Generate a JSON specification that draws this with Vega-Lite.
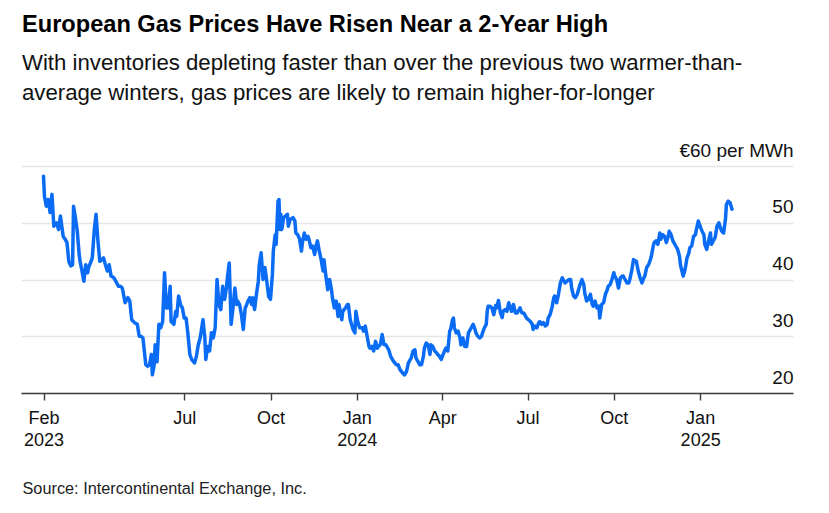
{
  "$schema": "https://vega.github.io/schema/vega-lite/v6.json",
  "width": 772,
  "height": 227,
  "autosize": {"type": "none"},
  "padding": {"left": 21, "top": 166, "right": 36, "bottom": 120},
  "background": "#ffffff",
  "config": {"view": {"stroke": null}, "font": "Liberation Sans"},
  "title": {
    "text": "European Gas Prices Have Risen Near a 2-Year High",
    "subtitle": ["With inventories depleting faster than over the previous two warmer-than-", "average winters, gas prices are likely to remain higher-for-longer"],
    "anchor": "start",
    "frame": "group",
    "dx": 1,
    "font": "Liberation Sans",
    "fontSize": 23.6,
    "fontWeight": "bold",
    "color": "#000000",
    "subtitleFont": "Liberation Sans",
    "subtitleFontSize": 22.2,
    "subtitleColor": "#111111",
    "subtitleLineHeight": 30,
    "subtitlePadding": 15,
    "offset": 37
  },
  "data": {"values": [
    {"date":"2023-02-01","price":58.2},{"date":"2023-02-02","price":54.7},{"date":"2023-02-04","price":52.9},{"date":"2023-02-06","price":54.1},{"date":"2023-02-08","price":51.8},{"date":"2023-02-10","price":55.0},{"date":"2023-02-12","price":49.4},{"date":"2023-02-15","price":50.0},{"date":"2023-02-17","price":48.8},{"date":"2023-02-19","price":51.2},{"date":"2023-02-22","price":47.6},{"date":"2023-02-24","price":47.1},{"date":"2023-02-26","price":46.5},{"date":"2023-02-28","price":43.2},
    {"date":"2023-03-02","price":42.4},{"date":"2023-03-04","price":42.6},{"date":"2023-03-05","price":52.9},{"date":"2023-03-07","price":50.9},{"date":"2023-03-09","price":48.5},{"date":"2023-03-11","price":44.4},{"date":"2023-03-12","price":43.2},{"date":"2023-03-14","price":41.5},{"date":"2023-03-16","price":39.7},{"date":"2023-03-18","price":42.6},{"date":"2023-03-20","price":41.2},{"date":"2023-03-21","price":42.1},{"date":"2023-03-23","price":42.9},{"date":"2023-03-25","price":43.8},{"date":"2023-03-27","price":48.5},{"date":"2023-03-29","price":51.5},{"date":"2023-03-31","price":46.8},
    {"date":"2023-04-02","price":43.2},{"date":"2023-04-04","price":43.5},{"date":"2023-04-06","price":43.8},{"date":"2023-04-08","price":42.6},{"date":"2023-04-10","price":41.5},{"date":"2023-04-12","price":42.6},{"date":"2023-04-14","price":40.6},{"date":"2023-04-17","price":40.3},{"date":"2023-04-19","price":39.7},{"date":"2023-04-22","price":38.8},{"date":"2023-04-24","price":38.8},{"date":"2023-04-26","price":38.5},{"date":"2023-04-29","price":35.9},
    {"date":"2023-05-02","price":36.8},{"date":"2023-05-04","price":36.2},{"date":"2023-05-06","price":32.9},{"date":"2023-05-09","price":32.4},{"date":"2023-05-12","price":32.1},{"date":"2023-05-14","price":30.0},{"date":"2023-05-16","price":30.0},{"date":"2023-05-18","price":29.7},{"date":"2023-05-21","price":25.0},{"date":"2023-05-23","price":24.7},{"date":"2023-05-25","price":25.0},{"date":"2023-05-27","price":26.8},{"date":"2023-05-28","price":23.2},{"date":"2023-05-30","price":25.0},{"date":"2023-05-31","price":28.5},
    {"date":"2023-06-02","price":25.5},{"date":"2023-06-04","price":32.1},{"date":"2023-06-06","price":31.5},{"date":"2023-06-08","price":32.6},{"date":"2023-06-10","price":41.2},{"date":"2023-06-12","price":35.0},{"date":"2023-06-14","price":35.0},{"date":"2023-06-16","price":38.8},{"date":"2023-06-17","price":32.6},{"date":"2023-06-20","price":32.1},{"date":"2023-06-22","price":34.4},{"date":"2023-06-23","price":33.5},{"date":"2023-06-25","price":37.1},{"date":"2023-06-27","price":35.6},{"date":"2023-06-29","price":35.0},
    {"date":"2023-07-01","price":33.2},{"date":"2023-07-03","price":33.2},{"date":"2023-07-05","price":30.3},{"date":"2023-07-07","price":26.8},{"date":"2023-07-09","price":25.9},{"date":"2023-07-12","price":25.3},{"date":"2023-07-14","price":26.5},{"date":"2023-07-16","price":28.5},{"date":"2023-07-18","price":29.7},{"date":"2023-07-21","price":32.9},{"date":"2023-07-23","price":29.7},{"date":"2023-07-24","price":25.9},{"date":"2023-07-26","price":28.2},{"date":"2023-07-28","price":27.4},{"date":"2023-07-30","price":30.6},
    {"date":"2023-08-01","price":29.7},{"date":"2023-08-03","price":31.5},{"date":"2023-08-05","price":40.0},{"date":"2023-08-07","price":35.6},{"date":"2023-08-09","price":34.7},{"date":"2023-08-11","price":38.8},{"date":"2023-08-13","price":36.5},{"date":"2023-08-15","price":38.5},{"date":"2023-08-16","price":40.3},{"date":"2023-08-18","price":42.9},{"date":"2023-08-19","price":37.4},{"date":"2023-08-20","price":32.1},{"date":"2023-08-22","price":35.0},{"date":"2023-08-24","price":38.5},{"date":"2023-08-26","price":35.6},{"date":"2023-08-27","price":36.2},{"date":"2023-08-29","price":35.6},{"date":"2023-08-31","price":33.8},
    {"date":"2023-09-02","price":31.2},{"date":"2023-09-04","price":35.0},{"date":"2023-09-05","price":35.3},{"date":"2023-09-07","price":36.2},{"date":"2023-09-09","price":36.8},{"date":"2023-09-11","price":35.6},{"date":"2023-09-12","price":36.8},{"date":"2023-09-14","price":34.7},{"date":"2023-09-16","price":37.4},{"date":"2023-09-18","price":39.7},{"date":"2023-09-19","price":42.6},{"date":"2023-09-21","price":44.7},{"date":"2023-09-23","price":40.0},{"date":"2023-09-25","price":42.1},{"date":"2023-09-27","price":39.7},{"date":"2023-09-29","price":37.0},
    {"date":"2023-10-01","price":36.5},{"date":"2023-10-03","price":40.9},{"date":"2023-10-04","price":45.0},{"date":"2023-10-06","price":47.9},{"date":"2023-10-07","price":46.2},{"date":"2023-10-09","price":53.8},{"date":"2023-10-10","price":54.1},{"date":"2023-10-11","price":48.8},{"date":"2023-10-12","price":51.5},{"date":"2023-10-13","price":48.8},{"date":"2023-10-15","price":50.9},{"date":"2023-10-17","price":51.2},{"date":"2023-10-19","price":51.5},{"date":"2023-10-20","price":49.4},{"date":"2023-10-22","price":50.6},{"date":"2023-10-25","price":50.9},{"date":"2023-10-27","price":50.3},{"date":"2023-10-28","price":48.2},{"date":"2023-10-30","price":47.9},
    {"date":"2023-11-01","price":47.1},{"date":"2023-11-03","price":45.0},{"date":"2023-11-04","price":46.5},{"date":"2023-11-06","price":48.2},{"date":"2023-11-08","price":47.1},{"date":"2023-11-10","price":47.6},{"date":"2023-11-11","price":47.1},{"date":"2023-11-13","price":45.6},{"date":"2023-11-15","price":45.9},{"date":"2023-11-17","price":44.4},{"date":"2023-11-19","price":46.2},{"date":"2023-11-20","price":46.8},{"date":"2023-11-22","price":45.0},{"date":"2023-11-24","price":43.5},{"date":"2023-11-26","price":41.5},{"date":"2023-11-27","price":43.5},{"date":"2023-11-29","price":40.6},
    {"date":"2023-12-01","price":38.2},{"date":"2023-12-03","price":40.0},{"date":"2023-12-05","price":38.2},{"date":"2023-12-06","price":36.8},{"date":"2023-12-08","price":35.0},{"date":"2023-12-10","price":36.2},{"date":"2023-12-12","price":33.5},{"date":"2023-12-13","price":35.6},{"date":"2023-12-16","price":32.9},{"date":"2023-12-17","price":34.4},{"date":"2023-12-20","price":35.0},{"date":"2023-12-22","price":35.6},{"date":"2023-12-23","price":35.6},{"date":"2023-12-25","price":32.9},{"date":"2023-12-28","price":31.2},{"date":"2023-12-30","price":30.6},{"date":"2023-12-31","price":34.4},
    {"date":"2024-01-02","price":32.6},{"date":"2024-01-04","price":31.5},{"date":"2024-01-07","price":31.5},{"date":"2024-01-08","price":30.9},{"date":"2024-01-10","price":31.8},{"date":"2024-01-12","price":30.0},{"date":"2024-01-14","price":28.2},{"date":"2024-01-15","price":27.9},{"date":"2024-01-17","price":28.2},{"date":"2024-01-19","price":27.4},{"date":"2024-01-21","price":29.1},{"date":"2024-01-23","price":27.9},{"date":"2024-01-24","price":28.2},{"date":"2024-01-26","price":28.5},{"date":"2024-01-28","price":30.3},{"date":"2024-01-30","price":28.5},
    {"date":"2024-02-01","price":28.5},{"date":"2024-02-04","price":27.6},{"date":"2024-02-06","price":26.5},{"date":"2024-02-09","price":25.6},{"date":"2024-02-12","price":25.0},{"date":"2024-02-14","price":25.0},{"date":"2024-02-16","price":24.1},{"date":"2024-02-19","price":23.5},{"date":"2024-02-21","price":23.2},{"date":"2024-02-23","price":23.8},{"date":"2024-02-25","price":25.3},{"date":"2024-02-26","price":25.6},{"date":"2024-02-28","price":26.2},
    {"date":"2024-03-01","price":27.4},{"date":"2024-03-03","price":27.6},{"date":"2024-03-04","price":26.2},{"date":"2024-03-06","price":25.6},{"date":"2024-03-08","price":25.0},{"date":"2024-03-10","price":25.0},{"date":"2024-03-12","price":26.5},{"date":"2024-03-13","price":27.9},{"date":"2024-03-15","price":28.8},{"date":"2024-03-17","price":28.5},{"date":"2024-03-19","price":26.8},{"date":"2024-03-20","price":28.5},{"date":"2024-03-22","price":28.2},{"date":"2024-03-24","price":27.4},{"date":"2024-03-26","price":27.1},{"date":"2024-03-27","price":26.8},{"date":"2024-03-29","price":26.5},{"date":"2024-03-31","price":25.9},
    {"date":"2024-04-02","price":26.8},{"date":"2024-04-04","price":27.6},{"date":"2024-04-05","price":27.9},{"date":"2024-04-07","price":27.4},{"date":"2024-04-09","price":30.9},{"date":"2024-04-10","price":31.2},{"date":"2024-04-12","price":32.9},{"date":"2024-04-13","price":33.2},{"date":"2024-04-14","price":31.5},{"date":"2024-04-16","price":30.6},{"date":"2024-04-18","price":30.9},{"date":"2024-04-20","price":29.7},{"date":"2024-04-21","price":28.5},{"date":"2024-04-23","price":29.7},{"date":"2024-04-25","price":28.2},{"date":"2024-04-27","price":28.2},{"date":"2024-04-29","price":30.6},{"date":"2024-04-30","price":30.9},
    {"date":"2024-05-02","price":31.5},{"date":"2024-05-04","price":32.1},{"date":"2024-05-06","price":31.2},{"date":"2024-05-07","price":30.6},{"date":"2024-05-09","price":30.0},{"date":"2024-05-11","price":29.7},{"date":"2024-05-13","price":30.0},{"date":"2024-05-14","price":30.6},{"date":"2024-05-16","price":31.5},{"date":"2024-05-18","price":32.1},{"date":"2024-05-19","price":34.4},{"date":"2024-05-20","price":35.3},{"date":"2024-05-22","price":35.3},{"date":"2024-05-24","price":35.0},{"date":"2024-05-26","price":33.8},{"date":"2024-05-28","price":35.4},{"date":"2024-05-29","price":35.0},{"date":"2024-05-31","price":36.3},
    {"date":"2024-06-02","price":34.2},{"date":"2024-06-04","price":33.3},{"date":"2024-06-05","price":34.4},{"date":"2024-06-07","price":34.7},{"date":"2024-06-09","price":34.4},{"date":"2024-06-11","price":35.9},{"date":"2024-06-12","price":35.3},{"date":"2024-06-14","price":34.4},{"date":"2024-06-16","price":35.6},{"date":"2024-06-18","price":34.1},{"date":"2024-06-20","price":34.1},{"date":"2024-06-21","price":34.4},{"date":"2024-06-23","price":35.0},{"date":"2024-06-25","price":34.1},{"date":"2024-06-27","price":34.1},{"date":"2024-06-29","price":33.5},{"date":"2024-06-30","price":33.2},
    {"date":"2024-07-02","price":32.9},{"date":"2024-07-04","price":32.6},{"date":"2024-07-06","price":32.1},{"date":"2024-07-07","price":31.2},{"date":"2024-07-09","price":31.8},{"date":"2024-07-11","price":31.5},{"date":"2024-07-13","price":32.4},{"date":"2024-07-14","price":32.6},{"date":"2024-07-16","price":32.1},{"date":"2024-07-18","price":32.4},{"date":"2024-07-20","price":31.8},{"date":"2024-07-22","price":32.1},{"date":"2024-07-23","price":33.2},{"date":"2024-07-25","price":33.8},{"date":"2024-07-27","price":35.0},{"date":"2024-07-29","price":36.8},{"date":"2024-07-30","price":37.1},
    {"date":"2024-08-01","price":35.9},{"date":"2024-08-03","price":37.4},{"date":"2024-08-05","price":39.4},{"date":"2024-08-07","price":40.3},{"date":"2024-08-08","price":40.0},{"date":"2024-08-10","price":39.4},{"date":"2024-08-12","price":39.7},{"date":"2024-08-14","price":40.0},{"date":"2024-08-16","price":40.0},{"date":"2024-08-17","price":38.5},{"date":"2024-08-19","price":37.1},{"date":"2024-08-21","price":36.8},{"date":"2024-08-23","price":37.4},{"date":"2024-08-24","price":38.0},{"date":"2024-08-26","price":39.1},{"date":"2024-08-28","price":40.0},{"date":"2024-08-30","price":39.1},{"date":"2024-08-31","price":37.6},
    {"date":"2024-09-02","price":36.2},{"date":"2024-09-04","price":36.5},{"date":"2024-09-06","price":37.4},{"date":"2024-09-08","price":35.6},{"date":"2024-09-09","price":35.3},{"date":"2024-09-11","price":36.2},{"date":"2024-09-13","price":35.0},{"date":"2024-09-15","price":35.3},{"date":"2024-09-16","price":33.2},{"date":"2024-09-18","price":35.6},{"date":"2024-09-20","price":35.9},{"date":"2024-09-22","price":37.4},{"date":"2024-09-24","price":38.2},{"date":"2024-09-25","price":38.8},{"date":"2024-09-27","price":39.1},{"date":"2024-09-29","price":40.0},
    {"date":"2024-10-01","price":41.2},{"date":"2024-10-02","price":40.6},{"date":"2024-10-04","price":40.0},{"date":"2024-10-06","price":38.5},{"date":"2024-10-08","price":40.3},{"date":"2024-10-10","price":40.6},{"date":"2024-10-11","price":40.6},{"date":"2024-10-13","price":40.0},{"date":"2024-10-15","price":39.4},{"date":"2024-10-17","price":39.4},{"date":"2024-10-18","price":40.0},{"date":"2024-10-20","price":41.5},{"date":"2024-10-22","price":43.5},{"date":"2024-10-24","price":43.2},{"date":"2024-10-25","price":43.2},{"date":"2024-10-27","price":41.5},{"date":"2024-10-29","price":40.3},{"date":"2024-10-31","price":39.4},
    {"date":"2024-11-02","price":40.3},{"date":"2024-11-03","price":40.6},{"date":"2024-11-05","price":42.1},{"date":"2024-11-07","price":42.6},{"date":"2024-11-09","price":43.5},{"date":"2024-11-10","price":44.1},{"date":"2024-11-12","price":45.9},{"date":"2024-11-13","price":46.5},{"date":"2024-11-15","price":46.8},{"date":"2024-11-17","price":46.2},{"date":"2024-11-19","price":48.2},{"date":"2024-11-20","price":47.1},{"date":"2024-11-22","price":47.9},{"date":"2024-11-24","price":47.6},{"date":"2024-11-26","price":46.5},{"date":"2024-11-28","price":47.6},{"date":"2024-11-29","price":48.5},
    {"date":"2024-12-01","price":47.9},{"date":"2024-12-03","price":46.8},{"date":"2024-12-05","price":46.2},{"date":"2024-12-06","price":45.9},{"date":"2024-12-08","price":45.3},{"date":"2024-12-10","price":44.1},{"date":"2024-12-11","price":42.6},{"date":"2024-12-13","price":41.2},{"date":"2024-12-14","price":40.6},{"date":"2024-12-16","price":41.8},{"date":"2024-12-18","price":43.8},{"date":"2024-12-20","price":44.7},{"date":"2024-12-21","price":45.6},{"date":"2024-12-23","price":45.9},{"date":"2024-12-25","price":47.6},{"date":"2024-12-27","price":47.9},{"date":"2024-12-28","price":48.8},{"date":"2024-12-30","price":50.3},
    {"date":"2025-01-01","price":49.4},{"date":"2025-01-03","price":48.5},{"date":"2025-01-05","price":47.9},{"date":"2025-01-06","price":46.2},{"date":"2025-01-08","price":45.3},{"date":"2025-01-10","price":46.8},{"date":"2025-01-12","price":48.2},{"date":"2025-01-13","price":46.2},{"date":"2025-01-15","price":46.8},{"date":"2025-01-17","price":47.4},{"date":"2025-01-19","price":49.4},{"date":"2025-01-21","price":50.0},{"date":"2025-01-22","price":49.4},{"date":"2025-01-24","price":48.5},{"date":"2025-01-26","price":48.2},{"date":"2025-01-28","price":50.6},{"date":"2025-01-29","price":53.2},{"date":"2025-01-31","price":53.8},{"date":"2025-02-02","price":53.5},{"date":"2025-02-04","price":52.4}
  ]},
  "mark": {"type": "line", "color": "#0a6cf5", "strokeWidth": 3.5, "strokeJoin": "round", "strokeCap": "round"},
  "encoding": {
    "x": {
      "field": "date",
      "type": "temporal",
      "scale": {"type": "utc", "domain": [{"year": 2023, "month": 1, "date": 8, "utc": true}, {"year": 2025, "month": 4, "date": 10, "utc": true}]},
      "axis": {
        "values": [
          {"year": 2023, "month": 2, "date": 1, "utc": true},
          {"year": 2023, "month": 7, "date": 1, "utc": true},
          {"year": 2023, "month": 10, "date": 1, "utc": true},
          {"year": 2024, "month": 1, "date": 1, "utc": true},
          {"year": 2024, "month": 4, "date": 1, "utc": true},
          {"year": 2024, "month": 7, "date": 1, "utc": true},
          {"year": 2024, "month": 10, "date": 1, "utc": true},
          {"year": 2025, "month": 1, "date": 1, "utc": true}
        ],
        "labelExpr": "(utcFormat(datum.value, '%b %Y') == 'Feb 2023' || utcFormat(datum.value, '%b') == 'Jan') ? [utcFormat(datum.value, '%b'), utcFormat(datum.value, '%Y')] : utcFormat(datum.value, '%b')",
        "grid": false,
        "domain": true,
        "domainColor": "#3c3c3c",
        "domainWidth": 1.6,
        "ticks": true,
        "tickSize": 7,
        "tickColor": "#3c3c3c",
        "tickWidth": 1.4,
        "labelFont": "Liberation Sans",
        "labelFontSize": 18,
        "labelColor": "#111111",
        "labelPadding": 9,
        "labelLineHeight": 22,
        "labelFlush": false,
        "labelOverlap": false,
        "title": "Source: Intercontinental Exchange, Inc.",
        "titleFont": "Liberation Sans",
        "titleFontSize": 16.3,
        "titleFontWeight": "normal",
        "titleColor": "#222222",
        "titleAnchor": "start",
        "titleAlign": "left",
        "titleBaseline": "alphabetic",
        "titleX": 1,
        "titleY": 100
      }
    },
    "y": {
      "field": "price",
      "type": "quantitative",
      "scale": {"domain": [20, 60], "zero": false, "nice": false},
      "axis": {
        "orient": "right",
        "values": [20, 30, 40, 50, 60],
        "domain": false,
        "ticks": false,
        "tickSize": 0,
        "grid": true,
        "gridColor": "#e6e6e6",
        "gridWidth": 1.3,
        "labelAlign": "right",
        "labelBaseline": "alphabetic",
        "labelOffset": -10,
        "labelPadding": 0,
        "labelFont": "Liberation Sans",
        "labelFontSize": 19,
        "labelColor": "#111111",
        "labelBound": false,
        "labelOverlap": false,
        "labelExpr": "datum.value == 60 ? '€60 per MWh' : datum.label",
        "title": null
      }
    }
  }
}
